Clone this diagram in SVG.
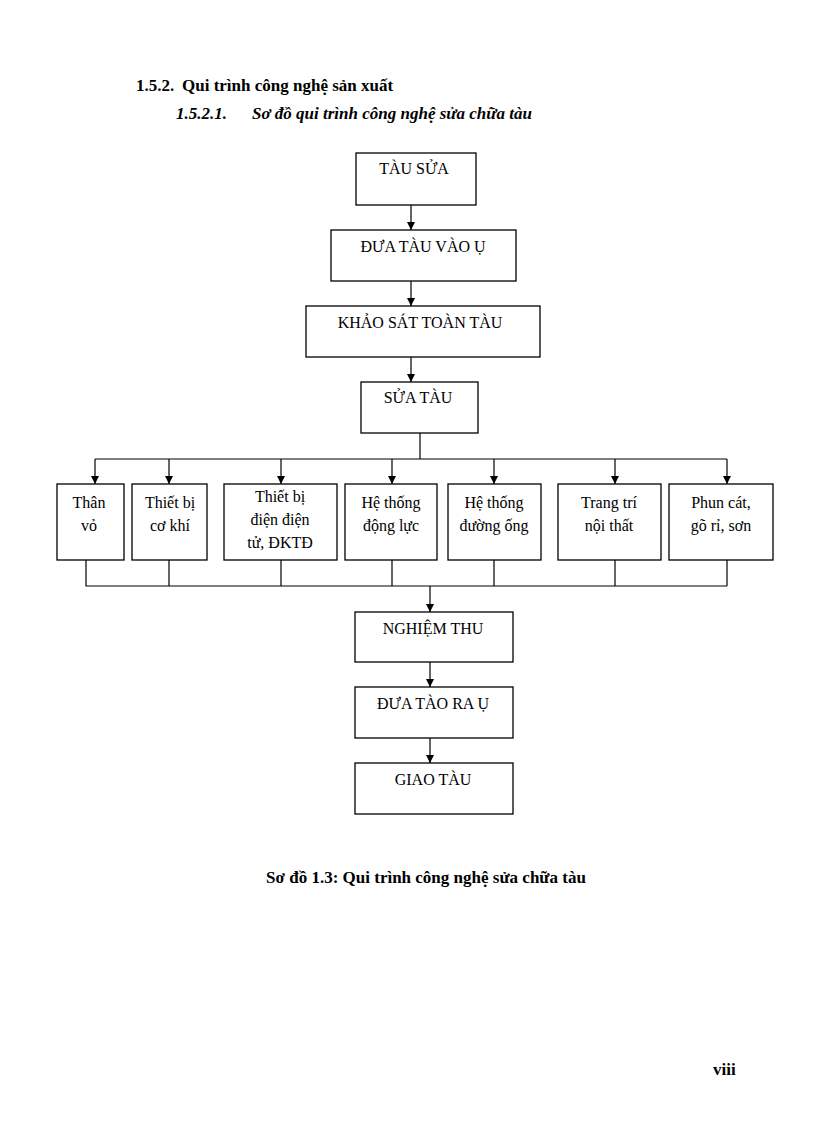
<svg xmlns="http://www.w3.org/2000/svg" width="816" height="1123" viewBox="0 0 816 1123">
<style>
.b{fill:#fff;stroke:#000;stroke-width:1.3}
.t{font-family:"Liberation Serif",serif;font-size:16px;text-anchor:middle}
.c{stroke:#000;stroke-width:1.2;fill:none}
.h{font-family:"Liberation Serif",serif;font-size:17px;font-weight:bold}
</style>
<defs><marker id="a" viewBox="0 0 10 10" refX="10" refY="5" markerWidth="8" markerHeight="8" markerUnits="userSpaceOnUse" orient="auto"><path d="M0,0L10,5L0,10z"/></marker></defs>
<rect width="816" height="1123" fill="#fff"/>
<text class="h" x="136" y="91">1.5.2.<tspan x="182">Qui trình công nghệ sản xuất</tspan></text>
<text class="h" x="176" y="119" font-style="italic">1.5.2.1.<tspan x="252">Sơ đồ qui trình công nghệ sửa chữa tàu</tspan></text>
<g id="n1"><rect class="b" x="356" y="153" width="120" height="52"/><text class="t" x="414" y="174">TÀU SỬA</text></g>
<g id="n2"><rect class="b" x="331" y="230" width="185" height="51"/><text class="t" x="423" y="252">ĐƯA TÀU VÀO Ụ</text></g>
<g id="n3"><rect class="b" x="306" y="306" width="234" height="51"/><text class="t" x="420" y="328">KHẢO SÁT TOÀN TÀU</text></g>
<g id="n4"><rect class="b" x="361" y="382" width="117" height="51"/><text class="t" x="418" y="403">SỬA TÀU</text></g>
<g id="b1"><rect class="b" x="57" y="484" width="67" height="76"/><text class="t" x="89" y="508">Thân</text><text class="t" x="89" y="531">vỏ</text></g>
<g id="b2"><rect class="b" x="132" y="484" width="75" height="76"/><text class="t" x="170" y="508">Thiết bị</text><text class="t" x="170" y="531">cơ khí</text></g>
<g id="b3"><rect class="b" x="224" y="484" width="113" height="76"/><text class="t" x="280" y="502">Thiết bị</text><text class="t" x="280" y="525">điện điện</text><text class="t" x="280" y="548">tử, ĐKTĐ</text></g>
<g id="b4"><rect class="b" x="345" y="484" width="92" height="76"/><text class="t" x="391" y="508">Hệ  thống</text><text class="t" x="391" y="531">động lực</text></g>
<g id="b5"><rect class="b" x="448" y="484" width="93" height="76"/><text class="t" x="494" y="508">Hệ  thống</text><text class="t" x="494" y="531">đường ống</text></g>
<g id="b6"><rect class="b" x="558" y="484" width="103" height="76"/><text class="t" x="609" y="508">Trang trí</text><text class="t" x="609" y="531">nội thất</text></g>
<g id="b7"><rect class="b" x="669" y="484" width="104" height="76"/><text class="t" x="721" y="508">Phun cát,</text><text class="t" x="721" y="531">gõ rỉ, sơn</text></g>
<g id="n5"><rect class="b" x="355" y="612" width="158" height="50"/><text class="t" x="433" y="634">NGHIỆM THU</text></g>
<g id="n6"><rect class="b" x="355" y="687" width="158" height="51"/><text class="t" x="433" y="709">ĐƯA TÀO RA Ụ</text></g>
<g id="n7"><rect class="b" x="355" y="763" width="158" height="51"/><text class="t" x="433" y="785">GIAO TÀU</text></g>
<g id="connectors">
<path class="c" marker-end="url(#a)" d="M411,205V230"/>
<path class="c" marker-end="url(#a)" d="M411,281V306"/>
<path class="c" marker-end="url(#a)" d="M411,357V382"/>
<path class="c" d="M420,433V459M95,459H727"/>
<path class="c" marker-end="url(#a)" d="M95,459V484"/>
<path class="c" marker-end="url(#a)" d="M169,459V484"/>
<path class="c" marker-end="url(#a)" d="M281,459V484"/>
<path class="c" marker-end="url(#a)" d="M392,459V484"/>
<path class="c" marker-end="url(#a)" d="M494,459V484"/>
<path class="c" marker-end="url(#a)" d="M615,459V484"/>
<path class="c" marker-end="url(#a)" d="M727,459V484"/>
<path class="c" d="M86,560V586H727M169,560V586M281,560V586M392,560V586M494,560V586M615,560V586M727,560V586"/>
<path class="c" marker-end="url(#a)" d="M430,586V612"/>
<path class="c" marker-end="url(#a)" d="M430,662V687"/>
<path class="c" marker-end="url(#a)" d="M430,738V763"/>
</g>
<text class="h" x="426" y="883" text-anchor="middle">Sơ đồ 1.3: Qui trình công nghệ sửa chữa tàu</text>
<text class="h" x="713" y="1075">viii</text>
</svg>
